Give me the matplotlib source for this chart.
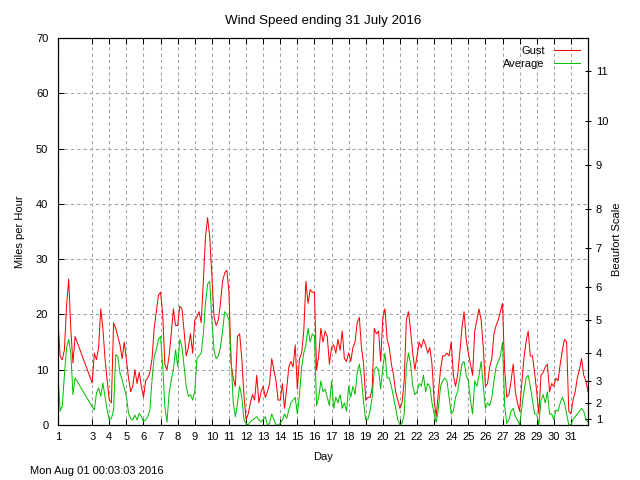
import numpy as np
import matplotlib
matplotlib.use("Agg")
from matplotlib import pyplot as plt

plt.rcParams['font.family'] = ['Liberation Sans', 'DejaVu Sans']
plt.rcParams['font.size'] = 8

# readings every 3 hours; no data logged on day 2
hours_day1 = np.arange(1, 2.001, 0.125)
hours_rest = np.arange(3, 32.001, 0.125)
days = np.concatenate([hours_day1, hours_rest])

gust = [
    18.8, 12.4, 11.8, 13.6, 21.5, 26.4, 17.3, 11.2, 16,   # 1
    7.6, 13, 11.8, 14, 21, 17.5, 12, 8,                   # 3
    4.5, 4, 18.5, 17.5, 16, 14.5, 12, 15,                 # 4
    11.8, 8.5, 6, 7, 10, 7.5, 9.5, 7,                     # 5
    5, 8, 8.5, 9.5, 12, 17.5, 20.5, 23.5,                 # 6
    24, 20, 11, 10, 12.5, 16.5, 21, 18,                   # 7
    18, 21.5, 21, 17, 12.5, 14, 16.5, 13,                 # 8
    19, 19.5, 20.5, 18.5, 26, 34, 37.5, 34,               # 9
    27, 19.5, 18, 19, 22, 26, 27.5, 28,                   # 10
    24, 11, 8.5, 7, 16, 16.5, 12, 5.5,                    # 11
    1, 2, 4, 5.5, 4.5, 9, 4, 6,                           # 12
    7, 5, 6, 7.5, 12, 10, 8, 4.5,                         # 13
    4.5, 7.5, 3, 6.5, 10.5, 11.5, 10.5, 14.5,             # 14
    6.5, 12, 13, 17, 26, 22, 24.5, 24,                    # 15
    24, 10, 12.5, 17.5, 15, 17, 16, 11,                   # 16
    14, 14.5, 13, 15.5, 13.5, 17, 12, 11.5,               # 17
    13, 11.5, 14, 15, 18.5, 19.5, 14, 11,                 # 18
    4.5, 5, 5, 6.5, 17.5, 16.5, 17, 11.5,                 # 19
    19.5, 21, 15.5, 14, 11, 9, 6, 4.5,                    # 20
    3, 4, 8, 19, 20.5, 17, 13, 10,                        # 21
    12.5, 15, 14, 15.5, 14.5, 13, 14, 11,                 # 22
    4.5, 1.5, 6, 10, 12.5, 12.5, 13, 12.5,                # 23
    15, 9, 7, 9, 13, 17.5, 20.5, 15.5,                    # 24
    13, 11, 9, 17, 19, 21, 19, 14,                        # 25
    7, 7.5, 10.5, 12, 16.5, 18, 19, 20.5,                 # 26
    22, 10, 5, 5.5, 8, 11, 6, 4,                          # 27
    2.5, 7.5, 12, 15, 17, 12.5, 12.5, 9.5,                # 28
    6, 2, 9, 9.5, 10.5, 11, 6, 7.5,                       # 29
    7, 8.5, 8, 11, 13.5, 15.5, 15, 2.5,                   # 30
    2, 4.5, 6, 8.5, 10, 12, 9, 8,                         # 31
    6,
]

average = [
    9, 2.5, 3.5, 9, 14, 15.5, 13, 5.5, 8.5,               # 1
    3.3, 2.7, 5.8, 6.7, 5.2, 7.6, 5.2, 2.7,               # 3
    0.9, 1.2, 2.7, 12.7, 12.4, 9.4, 8.2, 6.7,             # 4
    5.2, 2.1, 1.2, 0.9, 1.8, 0.9, 2.1, 1.5,               # 5
    0.6, 0.9, 1.5, 2.7, 8.2, 12.4, 13.6, 15.5,            # 6
    16, 10.6, 3.3, 0.5, 5.8, 8.2, 10, 13.6,               # 7
    10.6, 15.5, 14.2, 10.6, 7, 5.2, 5.5, 4.5,             # 8
    6, 12, 12.5, 13, 16.5, 22, 25.5, 26,                  # 9
    19, 13.5, 12, 12.5, 14, 17, 20.5, 20,                 # 10
    19, 12, 4, 1.5, 4, 7, 5, 1,                           # 11
    0.3, 0, 0.6, 0.9, 1.2, 1.5, 0.9, 0.6,                 # 12
    1, 1.5, 0, 0.3, 2, 1, 0, 0,                           # 13
    0.3, 0.9, 2, 1.2, 2.7, 4, 4.5, 5,                     # 14
    2, 5.5, 10.5, 13, 14.5, 17.5, 15, 16.5,               # 15
    16, 3.5, 5, 8, 6, 6.5, 5, 3.5,                        # 16
    8, 3, 5, 4, 5.5, 3, 4, 2.5,                           # 17
    7, 5, 7, 5.5, 9.5, 11, 8.5, 4,                        # 18
    1, 1, 2.5, 5, 10, 10.5, 10, 6.5,                      # 19
    10.5, 13, 8.5, 8.5, 7, 5, 3, 1,                       # 20
    0, 0.3, 2, 10.5, 13, 11, 7, 5.5,                      # 21
    6, 7.5, 7, 9, 6, 7.5, 7, 4,                           # 22
    2, 0.5, 3, 7, 8, 8.5, 8, 5,                           # 23
    2, 2.5, 5, 6, 8.5, 11, 11.5, 9,                       # 24
    8, 4.5, 2, 8, 7, 9, 11.5, 7,                          # 25
    3, 4, 3.5, 5, 8, 10.5, 11.5, 12.5,                    # 26
    15, 3.5, 0.3, 0.9, 2.5, 3, 1.5, 0.9,                  # 27
    0, 3, 6, 8.5, 9, 7, 4.5, 2,                           # 28
    2, 0, 4.5, 5.5, 4, 6, 2, 2,                           # 29
    1, 2.7, 2.5, 4, 5, 4, 2, 0,                           # 30
    0, 1, 1.5, 2, 2.5, 3, 2.5, 1,                         # 31
    0.5,
]

day_ticks = [1] + list(range(3, 32))
mph_ticks = list(range(0, 71, 10))
beaufort_mph = [1, 4, 8, 13, 19, 25, 32, 39, 47, 55, 64]
beaufort_labels = [str(i) for i in range(1, 12)]

fig = plt.figure(figsize=(6.4, 4.8), dpi=100)
ax = fig.add_axes([58 / 640, 55 / 480, 530 / 640, 387 / 480])

ax.plot(days, gust, color="#ff0000", lw=0.72, label="Gust")
ax.plot(days, average, color="#00c000", lw=0.72, label="Average")

ax.set_xlim(1, 32)
ax.set_ylim(0, 70)
ax.set_xticks(day_ticks)
ax.set_xticklabels([str(d) for d in day_ticks])
ax.set_yticks(mph_ticks)
ax.grid(True, color="#a0a0a0", lw=0.75, linestyle=(0, (3, 3)))
ax.set_axisbelow(True)
ax.tick_params(direction="in", length=4, width=0.75, top=True, right=True)
ax.tick_params(axis="y", pad=7)
ax.tick_params(axis="x", pad=5)
for s in ax.spines.values():
    s.set_linewidth(0.8)

ax2 = ax.twinx()
ax2.set_ylim(0, 70)
ax2.set_yticks(beaufort_mph)
ax2.set_yticklabels(beaufort_labels)
ax2.tick_params(direction="inout", length=5, width=0.75, pad=3)
ax2.set_ylabel("Beaufort Scale", va="center")
ax2.yaxis.set_label_coords((617 - 58) / 530, 0.48)

ax.set_ylabel("Miles per Hour", va="center")
ax.yaxis.set_label_coords((20 - 58) / 530, 0.5)
ax.set_xlabel("Day", va="center")
ax.xaxis.set_label_coords(0.5, -(457 - 425) / 387)

ax.set_title("Wind Speed ending 31 July 2016", pad=10)
ax.legend(loc="upper right", markerfirst=False, frameon=False,
          handlelength=2.4, handletextpad=0.8, labelspacing=0.25,
          borderaxespad=0.3)

fig.text(30 / 640, 1 - 471 / 480, "Mon Aug 01 00:03:03 2016", va="center")

fig.savefig("out.png", dpi=100)
